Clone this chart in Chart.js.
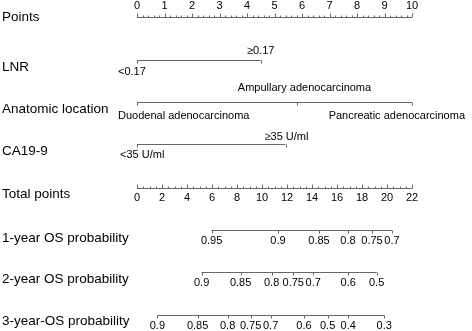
<!DOCTYPE html>
<html>
<head>
<meta charset="utf-8">
<script src="https://cdn.jsdelivr.net/npm/chart.js@4.4.1/dist/chart.umd.min.js"></script>
<style>
  html, body { margin: 0; padding: 0; background: #fff; }
  #wrap { position: relative; width: 472px; height: 331px; }
</style>
</head>
<body>
<div id="wrap"><canvas id="nomo"></canvas></div>
<script>
// ── Data ───────────────────────────────────────────────────────────────────
const pointTicks = [0, 1, 2, 3, 4, 5, 6, 7, 8, 9, 10];
const totalTicks = [0, 2, 4, 6, 8, 10, 12, 14, 16, 18, 20, 22];

const lnrLevels = ['<0.17', '≥0.17'];
const lnrPoints = [0, 4.5];

const locationLevels = ['Duodenal adenocarcinoma', 'Ampullary adenocarcinoma', 'Pancreatic adenocarcinoma'];
const locationPoints = [0, 5.8, 10];

const ca199Levels = ['<35 U/ml', '≥35 U/ml'];
const ca199Points = [0, 5.4];

const os1Probs = ['0.95', '0.9', '0.85', '0.8', '0.75', '0.7'];
const os1Total = [5.97, 11.28, 14.56, 16.88, 18.8, 20.4];

const os2Probs = ['0.9', '0.85', '0.8', '0.75', '0.7', '0.6', '0.5'];
const os2Total = [5.17, 8.29, 10.77, 12.5, 14.1, 16.9, 19.17];

const os3Probs = ['0.9', '0.85', '0.8', '0.75', '0.7', '0.6', '0.5', '0.4', '0.3'];
const os3Total = [1.63, 4.85, 7.25, 9.09, 10.69, 13.36, 15.25, 16.9, 19.78];

// ── Layout (pixel rows, label styling) ─────────────────────────────────────
const FONT = '"Liberation Sans", Arial, sans-serif';
const LINE = '#666';
const INK = '#000';

const rows = [
  { title: 'Points', titleY: 17, lineY: 17.5, kind: 'points' },
  { title: 'LNR', titleY: 67, lineY: 60.5, kind: 'cat', levels: lnrLevels, values: lnrPoints,
    place: [{ side: 'below', align: 'left', dx: -19 }, { side: 'above', align: 'center', dx: 0 }],
    above: 51, below: 72 },
  { title: 'Anatomic location', titleY: 109, lineY: 102.5, kind: 'cat', levels: locationLevels, values: locationPoints,
    place: [{ side: 'below', align: 'left', dx: -19 }, { side: 'above', align: 'center', dx: 8 },
      { side: 'below', align: 'right', dx: 53 }],
    above: 88, below: 116 },
  { title: 'CA19-9', titleY: 151, lineY: 144.5, kind: 'cat', levels: ca199Levels, values: ca199Points,
    place: [{ side: 'below', align: 'left', dx: -17 }, { side: 'above', align: 'center', dx: 1 }],
    above: 137, below: 155 },
  { title: 'Total points', titleY: 194, lineY: 188.5, kind: 'total' },
  { title: '1-year OS probability', titleY: 238, lineY: 230.5, kind: 'prob', labels: os1Probs, values: os1Total },
  { title: '2-year OS probability', titleY: 279, lineY: 272.5, kind: 'prob', labels: os2Probs, values: os2Total },
  { title: '3-year-OS probability', titleY: 321, lineY: 315.5, kind: 'prob', labels: os3Probs, values: os3Total },
];

// One straight axis line per row, drawn by the library as a two-point line.
function rowLine(row) {
  let xs; let axis = 'x';
  if (row.kind === 'points') xs = [pointTicks[0], pointTicks[pointTicks.length - 1]];
  else if (row.kind === 'total') { xs = [totalTicks[0], totalTicks[totalTicks.length - 1]]; axis = 'xt'; }
  else if (row.kind === 'cat') xs = [Math.min(...row.values), Math.max(...row.values)];
  else { xs = [Math.min(...row.values), Math.max(...row.values)]; axis = 'xt'; }
  return {
    data: xs.map((v) => ({ x: v, y: row.lineY })),
    xAxisID: axis,
    showLine: true,
    borderColor: LINE,
    borderWidth: 1,
    pointRadius: 0,
  };
}

function vtick(ctx, px, y0, y1) {
  const x = Math.round(px) + 0.5;
  ctx.beginPath();
  ctx.moveTo(x, y0);
  ctx.lineTo(x, y1);
  ctx.stroke();
}

const nomogramPlugin = {
  id: 'nomogram',
  afterDatasetsDraw(chart) {
    const { ctx } = chart;
    const sx = chart.scales.x;
    const st = chart.scales.xt;
    ctx.save();
    ctx.strokeStyle = LINE;
    ctx.lineWidth = 1;
    ctx.fillStyle = INK;
    ctx.textBaseline = 'middle';

    rows.forEach((row) => {
      // row title
      ctx.font = `13.5px ${FONT}`;
      ctx.textAlign = 'left';
      ctx.fillText(row.title, 2, row.titleY);

      ctx.font = `11px ${FONT}`;
      const ly = row.lineY;

      if (row.kind === 'points') {
        for (let i = 0; i <= 50; i++) {
          const v = i / 5;
          const major = i % 5 === 0;
          vtick(ctx, sx.getPixelForValue(v), ly, ly - (major ? 4 : 2));
        }
        ctx.textAlign = 'center';
        pointTicks.forEach((v) => ctx.fillText(String(v), sx.getPixelForValue(v), 6));
      } else if (row.kind === 'total') {
        for (let i = 0; i <= 44; i++) {
          const v = i / 2;
          const major = i % 4 === 0;
          vtick(ctx, st.getPixelForValue(v), ly, ly - (major ? 4 : 2));
        }
        ctx.textAlign = 'center';
        totalTicks.forEach((v) => ctx.fillText(String(v), st.getPixelForValue(v), 198));
      } else if (row.kind === 'cat') {
        row.values.forEach((v, i) => {
          const px = sx.getPixelForValue(v);
          vtick(ctx, px, ly, ly + 3);
          const p = row.place[i];
          ctx.textAlign = p.align;
          ctx.fillText(row.levels[i], px + p.dx, p.side === 'above' ? row.above : row.below);
        });
      } else {
        ctx.textAlign = 'center';
        row.values.forEach((v, i) => {
          const px = st.getPixelForValue(v);
          vtick(ctx, px, ly, ly + 3);
          ctx.fillText(row.labels[i], px, ly + 10.5);
        });
      }
    });
    ctx.restore();
  },
};

new Chart(document.getElementById('nomo'), {
  type: 'scatter',
  data: { datasets: rows.map(rowLine) },
  options: {
    responsive: true,
    maintainAspectRatio: false,
    animation: false,
    events: [],
    layout: { padding: { left: 137, right: 60, top: 0, bottom: 0 } },
    plugins: { legend: { display: false }, tooltip: { enabled: false } },
    scales: {
      x: { type: 'linear', min: 0, max: 10, display: false },
      xt: { type: 'linear', axis: 'x', min: 0, max: 22, display: false },
      y: { type: 'linear', min: 0, max: 331, reverse: true, display: false },
    },
  },
  plugins: [nomogramPlugin],
});
</script>
</body>
</html>
